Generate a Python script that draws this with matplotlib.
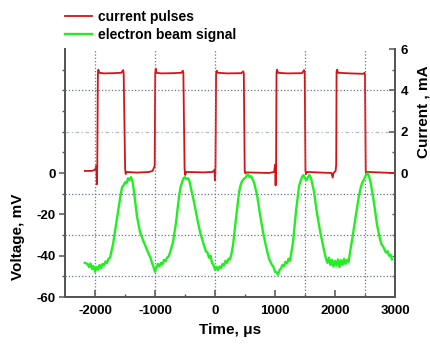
import matplotlib

matplotlib.use("Agg")
import matplotlib.pyplot as plt
from matplotlib.ticker import FixedLocator, NullFormatter

plt.rcParams["font.family"] = ["Liberation Sans", "DejaVu Sans"]
plt.rcParams["font.weight"] = "bold"
plt.rcParams["axes.unicode_minus"] = False

# electron beam signal (left axis, mV)
beam_t = [
    -2170, -2125, -2100, -2075, -2050, -2025, -2000, -1975, -1950, -1925,
    -1900, -1875, -1850, -1825, -1800, -1775, -1750, -1700, -1650, -1600,
    -1575, -1550, -1525, -1500, -1475, -1450, -1425, -1400, -1375, -1350,
    -1300, -1250, -1200, -1150, -1100, -1075, -1050, -1025, -1000, -975,
    -950, -925, -900, -875, -850, -825, -800, -775, -750, -700,
    -650, -600, -575, -550, -525, -500, -475, -450, -425, -400,
    -350, -300, -250, -200, -150, -125, -100, -75, -50, -25,
    0, 25, 50, 75, 100, 125, 150, 175, 200, 225,
    250, 275, 300, 350, 400, 425, 450, 475, 500, 525,
    550, 575, 600, 625, 650, 700, 750, 800, 850, 875,
    900, 925, 950, 975, 1000, 1025, 1050, 1075, 1100, 1125,
    1150, 1175, 1200, 1225, 1250, 1275, 1300, 1350, 1400, 1425,
    1450, 1475, 1500, 1525, 1550, 1575, 1600, 1650, 1700, 1750,
    1800, 1825, 1850, 1875, 1900, 1925, 1950, 1975, 2000, 2025,
    2050, 2075, 2100, 2125, 2150, 2175, 2200, 2225, 2250, 2300,
    2350, 2400, 2425, 2450, 2475, 2500, 2525, 2550, 2575, 2600,
    2650, 2700, 2750, 2775, 2800, 2825, 2850, 2875, 2900, 2925,
    2950,
]
beam_mv = [
    -43.5, -44.0, -45.5, -43.8, -46.5, -45.0, -47.8, -45.5, -46.8, -44.5,
    -46.0, -44.0, -44.8, -42.8, -43.5, -41.5, -41.0, -34.5, -25.0, -15.5,
    -11.0, -7.0, -6.0, -4.5, -5.0, -2.5, -3.5, -2.0, -4.0, -9.0,
    -21.0, -28.5, -32.5, -36.0, -39.5, -41.0, -43.5, -45.5, -47.8, -45.5,
    -44.0, -45.2, -43.5, -44.2, -42.0, -42.8, -41.0, -40.5, -38.5, -33.5,
    -24.0, -11.5, -7.0, -4.5, -2.5, -2.0, -3.0, -2.5, -4.0, -7.5,
    -14.0, -21.5, -28.5, -33.5, -38.0, -38.5, -41.0, -40.0, -43.5, -44.5,
    -46.8, -45.5, -47.0, -45.2, -46.0, -44.0, -44.8, -42.5, -43.5, -41.5,
    -41.8, -39.0, -35.0, -22.0, -9.5, -6.0, -4.0, -3.0, -2.5, -1.5,
    -0.5, -2.0, -1.5, -3.0, -4.5, -10.5, -20.0, -28.5, -35.5, -38.5,
    -41.5, -43.0, -44.5, -45.5, -47.8, -48.0, -49.2, -47.0, -46.2, -44.5,
    -45.0, -43.0, -43.8, -41.5, -42.5, -38.0, -33.5, -18.5, -6.5, -4.0,
    -2.0, -1.0, -2.5, -3.5, -2.0, -1.0, -2.5, -9.0, -19.5, -28.0,
    -35.0, -38.5, -41.5, -43.5, -41.0, -44.5, -42.0, -45.2, -42.5, -44.8,
    -41.8, -45.5, -42.2, -44.5, -41.5, -44.0, -42.0, -43.0, -38.5, -29.5,
    -20.0, -11.0, -7.5, -5.0, -3.5, -2.0, -0.5, -0.2, -2.5, -5.5,
    -14.5, -25.0, -32.0, -34.5, -35.5, -37.0, -38.5, -37.8, -40.0, -39.5,
    -41.8,
]

# current pulses (right axis, mA)
pulse_t = [
    -2170, -2060, -2000, -1978, -1970, -1962, -1952, -1944, -1930, -1850,
    -1700, -1560, -1530, -1522, -1498, -1488, -1470, -1300, -1100, -1040,
    -1005, -996, -988, -975, -900, -700, -560, -535, -527, -507,
    -497, -480, -200, -40, -10, 0, 8, 18, 28, 45,
    200, 440, 470, 480, 495, 505, 520, 900, 985, 1002,
    1010, 1018, 1025, 1035, 1050, 1200, 1450, 1485, 1495, 1508,
    1518, 1535, 1940, 1962, 1975, 2010, 2020, 2026, 2035, 2050,
    2250, 2470, 2492, 2500, 2512, 2522, 2540, 2980,
]
pulse_ma = [
    0.10, 0.10, 0.15, 0.35, -0.55, 0.45, 4.80, 5.00, 4.85, 4.82,
    4.83, 4.85, 4.98, 4.80, 0.20, -0.05, 0.05, 0.02, 0.05, 0.10,
    0.35, 4.85, 5.05, 4.85, 4.82, 4.83, 4.85, 4.95, 4.80, 0.20,
    -0.10, 0.05, 0.03, 0.05, 0.15, -0.35, 0.30, 4.80, 4.95, 4.85,
    4.82, 4.83, 4.92, 4.82, 0.10, -0.02, 0.03, 0.00, 0.05, 0.40,
    -0.60, 0.30, 4.85, 5.00, 4.85, 4.82, 4.83, 4.98, 4.85, 0.10,
    -0.05, 0.05, 0.00, -0.22, 0.00, 0.10, 0.40, 4.90, 5.00, 4.85,
    4.82, 4.80, 4.85, 4.75, 0.10, -0.05, 0.05, 0.00,
]

time_grid = [-2000, -1000, 0, 1500, 2500]
volt_grid = [-50, -30, -10]
curr_grid = [2, 4]

spine_col = "#555555"
grid_col = "#6a7390"

fig = plt.figure(figsize=(4.3, 3.45), dpi=100)
ax = fig.add_axes([65 / 430, 1 - 297 / 345, 330 / 430, 248 / 345])
ax2 = ax.twinx()

# green on top of red, like the original
ax.set_zorder(ax2.get_zorder() + 1)
ax.patch.set_visible(False)

(l_cur,) = ax2.plot(pulse_t, pulse_ma, color="#d41414", lw=1.3, label="current pulses")
(l_beam,) = ax.plot(beam_t, beam_mv, color="#22ee22", lw=1.7, label="electron beam signal")

for t in time_grid:
    ax.axvline(t, color=grid_col, lw=0.9, ls=":", zorder=0)
for v in volt_grid:
    ax.axhline(v, color=grid_col, lw=0.9, ls=":", zorder=0)
ax2.axhline(curr_grid[1], color=grid_col, lw=0.9, ls=":", zorder=0)
ax2.axhline(curr_grid[0], color="#b8bcc8", lw=0.9, ls=(0, (3, 2, 1, 2)), zorder=0)

ax.set_xlim(-2500, 3000)
ax.set_ylim(-60, 60)
ax2.set_ylim(-6, 6)

ax.xaxis.set_major_locator(FixedLocator([-2000, -1000, 0, 1000, 2000, 3000]))
ax.xaxis.set_minor_locator(FixedLocator([-1500, -500, 500, 1500, 2500]))
ax.yaxis.set_major_locator(FixedLocator([-60, -40, -20, 0]))
ax.yaxis.set_minor_locator(FixedLocator([-50, -30, -10, 10, 20, 30, 40, 50]))
ax2.yaxis.set_major_locator(FixedLocator([0, 2, 4, 6]))
ax2.yaxis.set_minor_locator(FixedLocator([-5, -4, -3, -2, -1, 1, 3, 5]))
ax2.yaxis.set_minor_formatter(NullFormatter())

for a in (ax, ax2):
    a.spines["top"].set_visible(False)
    for s in ("left", "right", "bottom"):
        a.spines[s].set_color(spine_col)
        a.spines[s].set_linewidth(1.3)

ax.tick_params(axis="x", which="major", direction="in", length=5, width=1.1,
               color=spine_col, pad=6, labelsize=9.5)
ax.tick_params(axis="x", which="minor", direction="in", length=2.5, width=1.0, color=spine_col)
ax.tick_params(axis="y", which="major", direction="out", length=4, width=1.1,
               color=spine_col, pad=2.5, labelsize=9.5)
ax.tick_params(axis="y", which="minor", direction="out", length=2.5, width=1.0, color=spine_col)
ax2.tick_params(axis="y", which="major", direction="in", length=4, width=1.1,
                color=spine_col, pad=4, labelsize=9.5)
ax2.tick_params(axis="y", which="minor", direction="in", length=2.5, width=1.0, color=spine_col)

ax.set_xlabel("Time, \u03bcs", fontsize=11, fontweight="bold", labelpad=4)
ax.set_ylabel("Voltage, mV", fontsize=11, fontweight="bold")
ax.yaxis.set_label_coords(-0.12, 0.242)
ax2.set_ylabel("Current , mA", fontsize=11, fontweight="bold")
ax2.yaxis.set_label_coords(1.065, 0.746)

fig.legend(
    [l_cur, l_beam],
    ["current pulses", "electron beam signal"],
    loc="upper left",
    bbox_to_anchor=(65 / 430, 1 - 10 / 345),
    frameon=False,
    fontsize=10,
    handlelength=1.95,
    handletextpad=0.4,
    labelspacing=0.3,
    borderpad=0,
    borderaxespad=0,
)

fig.savefig("out.png", dpi=100)
plt.close(fig)
